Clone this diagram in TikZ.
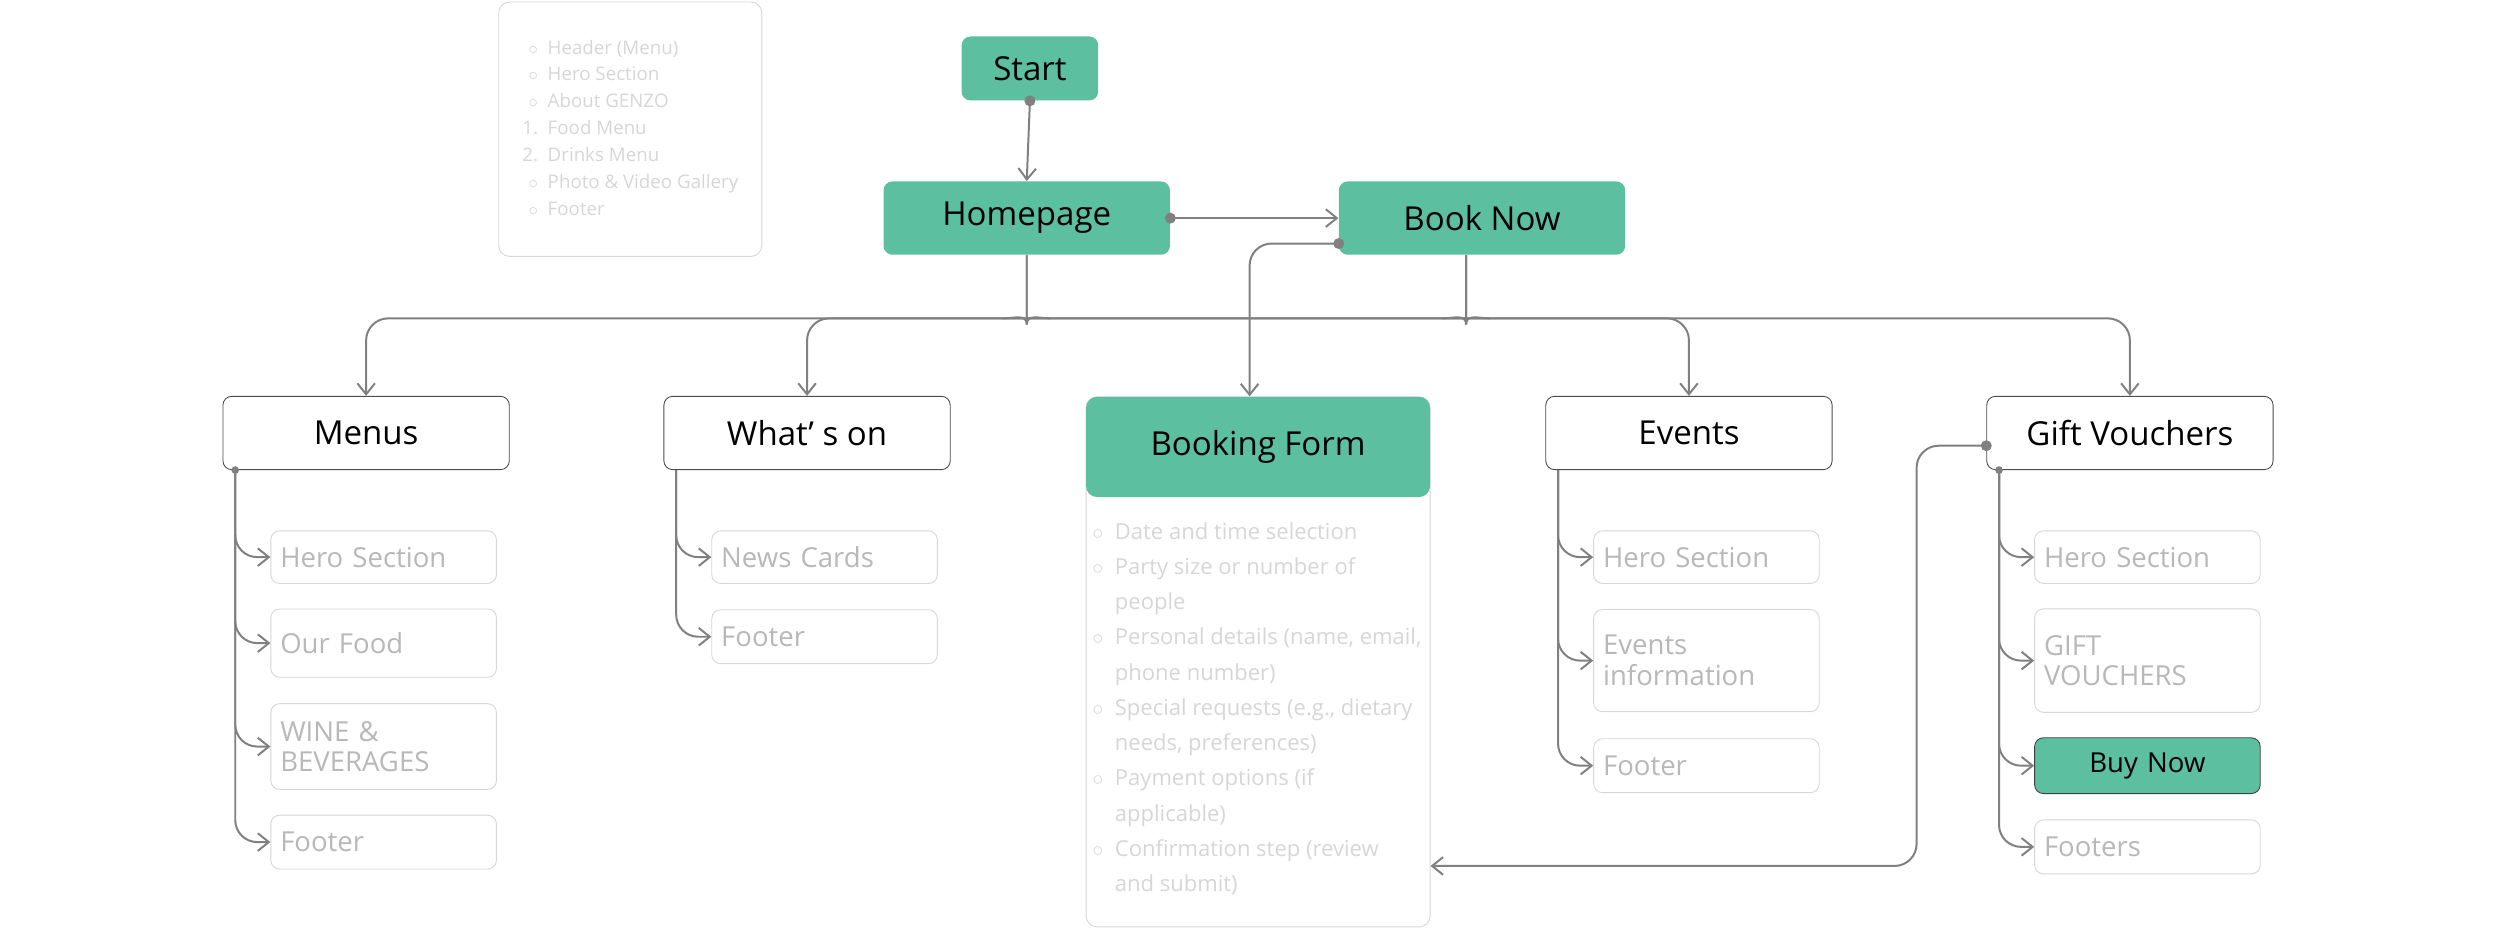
\documentclass[tikz,border=0pt]{standalone}
\usepackage{fontspec}
\setmainfont{Open Sans}
\usetikzlibrary{arrows.meta,positioning,calc}
\definecolor{mint}{HTML}{5BBFA0}
\definecolor{wire}{HTML}{808080}
\definecolor{faint}{HTML}{D6D6D6}

\begin{document}
\begin{tikzpicture}[
    x=0.0254cm, y=-0.0254cm,
    page/.style={
      rectangle, draw=black!70, fill=white, rounded corners=4pt,
      minimum width=4.57cm, minimum height=1.17cm,
      font=\fontsize{15}{18}\selectfont
    },
    hub/.style={
      page, draw=none, fill=mint
    },
    part/.style={
      rectangle, draw=faint, fill=white, rounded corners=4pt,
      minimum width=3.6cm, text width=3.3cm, align=left,
      font=\fontsize{12.5}{14}\selectfont, text=black!28
    },
    arrow/.style={-{Straight Barb[length=5pt,width=8pt]}, draw=wire, line width=0.9pt, rounded corners=10pt},
    wire/.style={draw=wire, line width=0.9pt, rounded corners=10pt},
    dot/.style={circle, fill=wire, inner sep=0pt, minimum size=5pt}
  ]
  \useasboundingbox (0,0) rectangle (1568,590);
  % top nodes
  \node[hub, minimum width=2.18cm, minimum height=1.02cm] (start) at (647,43) {Start};
  \node[hub] (home) at (645,137) {Homepage};
  \node[hub] (book) at (931,137) {Book Now};
  % homepage contents
  \node[rectangle, draw=faint, rounded corners=5pt, minimum width=4.2cm, minimum height=4.06cm,
        font=\fontsize{8.5}{12.2}\selectfont, text=black!16, anchor=north west, inner sep=0pt] (outline) at (313,1) {%
    \begin{tabular}{@{}r@{\ \ }l@{}}
      $\circ$ & Header (Menu)\\
      $\circ$ & Hero Section\\
      $\circ$ & About GENZO\\
      1. & Food Menu\\
      2. & Drinks Menu\\
      $\circ$ & Photo \& Video Gallery\\
      $\circ$ & Footer
    \end{tabular}};
  % row of sections
  \node[page] (menus) at (230,272) {Menus};
  \node[page] (whats) at (507,272) {What’ s on};
  \node[page] (events) at (1061,272) {Events};
  \node[page] (gift) at (1338,272) {Gift Vouchers};
  \node[rectangle, draw=faint, rounded corners=5pt, minimum width=5.49cm, minimum height=8.46cm,
        anchor=north west] (formbody) at (682,249) {};
  \node[hub, minimum width=5.49cm, minimum height=1.6cm, anchor=north west, rounded corners=5pt] (form) at (682,249) {Booking Form};
  \node[font=\fontsize{10}{16}\selectfont, text=black!16, anchor=north west, inner sep=0pt] (formlist) at (686,323) {%
    \begin{tabular}{@{}l@{\ \ }l@{}}
      $\circ$ & Date and time selection\\
      $\circ$ & Party size or number of\\
              & people\\
      $\circ$ & Personal details (name, email,\\
              & phone number)\\
      $\circ$ & Special requests (e.g., dietary\\
              & needs, preferences)\\
      $\circ$ & Payment options (if\\
              & applicable)\\
      $\circ$ & Confirmation step (review\\
              & and submit)
    \end{tabular}};
  % menus parts
  \node[part, minimum height=0.84cm] (m1) at (241,350) {Hero Section};
  \node[part, minimum height=1.09cm] (m2) at (241,404) {Our Food};
  \node[part, minimum height=1.37cm] (m3) at (241,469) {WINE \&\\BEVERAGES};
  \node[part, minimum height=0.86cm] (m4) at (241,529) {Footer};
  % whats on parts
  \node[part, minimum height=0.84cm] (w1) at (518,350) {News Cards};
  \node[part, minimum height=0.86cm] (w2) at (518,400) {Footer};
  % events parts
  \node[part, minimum height=0.84cm] (e1) at (1072,350) {Hero Section};
  \node[part, minimum height=1.63cm] (e2) at (1072,415) {Events\\information};
  \node[part, minimum height=0.86cm] (e3) at (1072,481) {Footer};
  % gift parts
  \node[part, minimum height=0.84cm] (g1) at (1349,350) {Hero Section};
  \node[part, minimum height=1.65cm] (g2) at (1349,415) {GIFT\\VOUCHERS};
  \node[part, draw=black!75, fill=mint, text=black, align=center, minimum height=0.89cm] (g3) at (1349,481) {Buy Now};
  \node[part, minimum height=0.86cm] (g4) at (1349,532) {Footers};
  % top links
  \draw[arrow] (start.south) -- (home.north);
  \node[dot] at (start.south) {};
  \draw[arrow] (home.east) -- (book.west);
  \node[dot] at (home.east) {};
  \coordinate (bus) at (645,200);
  \draw[wire] (home.south) -- (645,190) to[out=-90,in=0] (630,200);
  \draw[wire] (home.south) -- (645,190) to[out=-90,in=180] (660,200);
  \draw[wire] (book.south -| 921,0) -- (921,190) to[out=-90,in=0] (906,200);
  \draw[wire] (book.south -| 921,0) -- (921,190) to[out=-90,in=180] (936,200);
  \draw[arrow] (bus) -| (menus.north);
  \draw[arrow] (bus) -| (whats.north);
  \draw[arrow] (bus) -| (events.north);
  \draw[arrow] (bus) -| (gift.north);
  \coordinate (bookdot) at (841,153);
  \draw[arrow] (bookdot) -| (form.north -| 785,0);
  \node[dot] at (bookdot) {};
  \coordinate (giftdot) at (gift.west |- 0,280);
  \draw[arrow] (giftdot) -| (1204,544) -- (formbody.east |- 0,544);
  \node[dot] at (giftdot) {};
  % part links
  \foreach \sect/\kid in {menus/m1,menus/m2,menus/m3,menus/m4,whats/w1,whats/w2,events/e1,events/e2,events/e3,gift/g1,gift/g2,gift/g3,gift/g4}
    \draw[arrow] ($(\sect.south west)+(8,0)$) |- (\kid.west);
  \foreach \sect in {menus,gift}
    \node[dot, minimum size=3.5pt] at ($(\sect.south west)+(8,0)$) {};
\end{tikzpicture}
\end{document}
